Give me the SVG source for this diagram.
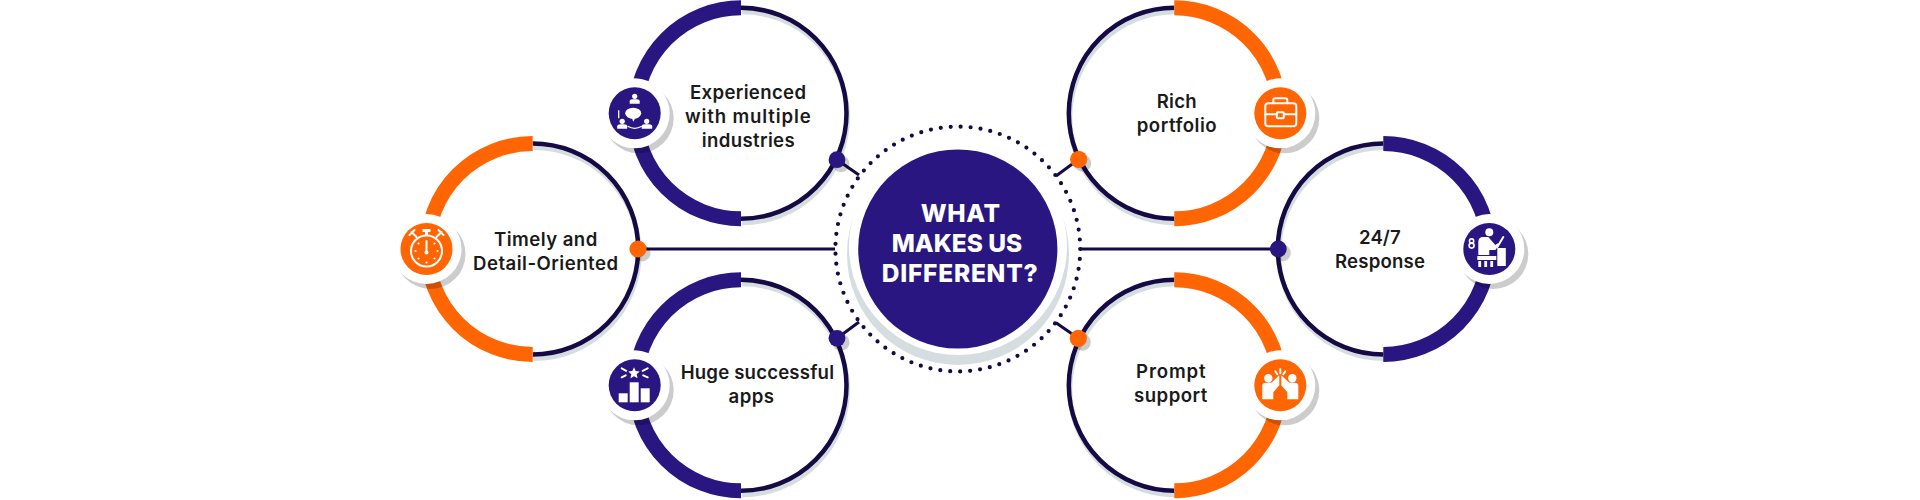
<svg xmlns="http://www.w3.org/2000/svg" width="1920" height="500" viewBox="0 0 1920 500">
<style>
text{font-family:"Inter","Liberation Sans",sans-serif;font-weight:600;font-size:18.6px;fill:#1a1a1a}
.title{font-weight:800;font-size:24.5px;fill:#fff}
.ring{fill:none;stroke:#160a45;stroke-width:4.5}
.sh{fill:none;stroke:#d6dde1;stroke-width:5}
.or{fill:none;stroke:#ff6503;stroke-width:15}
.nv{fill:none;stroke:#2a1680;stroke-width:15}
.ds{fill:#000;fill-opacity:.2}
.wd{fill:#fff}
.fo{fill:#ff6503}
.fn{fill:#2a1680}
.lnk{stroke:#160a45;stroke-width:3;fill:none}
.iw{fill:#fff}
.il{fill:none;stroke:#fff;stroke-width:2;stroke-linecap:round}
</style>
<defs>
<g id="ringL"><path class="sh" d="M1,-101.5A105.5,105.5 0 0 1 1,109.5"/><path class="ring" d="M0,-105.5A105.5,105.5 0 0 1 0,105.5"/></g>
<g id="ringR"><path class="sh" d="M1,-101.5A105.5,105.5 0 0 0 1,109.5"/><path class="ring" d="M0,-105.5A105.5,105.5 0 0 0 0,105.5"/></g>
<path id="halfL" d="M0,-105.5A105.5,105.5 0 0 0 0,105.5"/>
<path id="halfR" d="M0,-105.5A105.5,105.5 0 0 1 0,105.5"/>
<g id="disc"><circle class="ds" cx="4" cy="5" r="35"/><circle class="wd" r="35"/></g>
</defs>
<rect width="1920" height="500" fill="#fff"/>

<g id="connectors">
<path class="lnk" d="M638,249H835"/>
<path class="lnk" d="M1080,249H1278"/>
<path class="lnk" d="M837,159.7L859,175"/>
<path class="lnk" d="M837,338.3L859,322"/>
<path class="lnk" d="M1078.7,159.3L1056,176"/>
<path class="lnk" d="M1078.3,338.3L1056,322.7"/>
</g>

<g id="node-center">
<circle cx="957.8" cy="249" r="122.4" fill="none" stroke="#160a45" stroke-width="4.2" stroke-linecap="round" stroke-dasharray="0 9.99"/>
<circle cx="958" cy="254" r="111" fill="#d6dde1"/>
<circle cx="958" cy="246" r="109" fill="#fff"/>
<circle class="fn" cx="957.8" cy="249" r="99.6"/>
<text class="title" x="920.7" y="221.7" textLength="79.5">WHAT</text>
<text class="title" x="891.7" y="252" textLength="130.6">MAKES US</text>
<text class="title" x="881.7" y="281.7" textLength="156">DIFFERENT?</text>
</g>

<g id="node-timely">
<use href="#ringL" x="532.7" y="249"/>
<use href="#halfL" class="or" x="532.7" y="249"/>
<circle class="ds" cx="642" cy="253" r="8.5"/><circle class="fo" cx="638" cy="249" r="8.6"/>
<g transform="translate(426.5,249)">
<use href="#disc"/><circle class="fo" r="26"/>
<circle class="il" cy="2" r="15.5"/>
<rect class="iw" x="-4" y="-20" width="8" height="3"/><rect class="iw" x="-1.5" y="-17" width="3" height="4"/>
<path class="il" d="M-15,-17L-10,-12M15,-17L10,-12M-17,-14L-12,-19M17,-14L12,-19M0,-8V3"/>
<circle class="iw" cy="3.5" r="2"/>
<circle class="iw" cy="13.5" r="1.1"/><circle class="iw" cx="-8" cy="9.5" r="1.1"/><circle class="iw" cx="8" cy="9.5" r="1.1"/><circle class="iw" cx="-11" cy="2" r="1.1"/><circle class="iw" cx="11" cy="2" r="1.1"/><circle class="iw" cx="-8" cy="-5.5" r="1.1"/><circle class="iw" cx="8" cy="-5.5" r="1.1"/>
</g>
<text x="494" y="245.7" textLength="103.3">Timely and</text>
<text x="473" y="270" textLength="145">Detail-Oriented</text>
</g>

<g id="node-experienced">
<use href="#ringL" x="741" y="113.3"/>
<use href="#halfL" class="nv" x="741" y="113.3"/>
<circle class="ds" cx="841" cy="163.7" r="8.5"/><circle class="fn" cx="837" cy="159.7" r="8.4"/>
<g transform="translate(634.7,113.3)">
<use href="#disc"/><circle class="fn" r="26"/>
<circle class="iw" cy="-17" r="2.6"/><path class="iw" d="M-5,-9.5V-12Q-5,-14 -2,-14H2Q5,-14 5,-12V-9.5Z"/>
<ellipse class="iw" cx="-1.5" cy="0" rx="8" ry="5.6"/><path class="iw" d="M-3,4L-1.5,8.5L1,4Z"/>
<circle class="iw" cx="-12.5" cy="8" r="2.6"/><path class="iw" d="M-17.5,15.5V13Q-17.5,11 -14,11H-11Q-7.5,11 -7.5,13V15.5Z"/>
<circle class="iw" cx="12" cy="8" r="2.6"/><path class="iw" d="M7,15.5V13Q7,11 10,11H14Q17.5,11 17.5,13V15.5Z"/>
<path fill="none" stroke="#fff" stroke-width="1.3" d="M-7,13Q0,17 7,13M-16,-3V5"/>
</g>
<text x="690" y="99" textLength="116">Experienced</text>
<text x="685" y="122.7" textLength="125.7">with multiple</text>
<text x="701.7" y="146.7" textLength="93">industries</text>
</g>

<g id="node-huge">
<use href="#ringL" x="741" y="385.3"/>
<use href="#halfL" class="nv" x="741" y="385.3"/>
<circle class="ds" cx="841" cy="342.3" r="8.5"/><circle class="fn" cx="837" cy="338.3" r="8.4"/>
<g transform="translate(634.7,385.3)">
<use href="#disc"/><circle class="fn" r="26"/>
<rect class="iw" x="-16" y="8" width="9" height="9"/><rect class="iw" x="-5" y="-3" width="9" height="20"/><rect class="iw" x="6" y="3" width="9" height="14"/>
<path class="iw" d="M-.7,-18L1,-14.2L5,-13.8L2,-11L2.9,-7L-.7,-9.1L-4.3,-7L-3.4,-11L-6.4,-13.8L-2.4,-14.2Z"/>
<path class="il" stroke-width="1.5" d="M-13,-17L-8.5,-14.5M-13,-8L-9,-10M13,-17L8,-14.5M13,-8L8.5,-10"/>
</g>
<text x="680.7" y="379.3" textLength="153.3">Huge successful</text>
<text x="728.6" y="403" textLength="45.4">apps</text>
</g>

<g id="node-rich">
<use href="#ringR" x="1174.3" y="113.3"/>
<use href="#halfR" class="or" x="1174.3" y="113.3"/>
<circle class="ds" cx="1082.7" cy="163.3" r="8.5"/><circle class="fo" cx="1078.7" cy="159.3" r="8.6"/>
<g transform="translate(1280.3,113.3)">
<use href="#disc"/><circle class="fo" r="26"/>
<rect class="il" x="-15" y="-10" width="31" height="23" rx="3" stroke-width="2.2"/>
<path class="il" stroke-width="2.2" d="M-7,-10V-13Q-7,-15 -5,-15H5Q7,-15 7,-13V-10M-15,1H-4M4,1H16"/>
<rect class="il" x="-3.5" y="-1" width="7" height="6" rx="1" stroke-width="1.8"/>
</g>
<text x="1156.7" y="107.7" textLength="40">Rich</text>
<text x="1136.7" y="131.7" textLength="80">portfolio</text>
</g>

<g id="node-response">
<use href="#ringR" x="1383.3" y="249"/>
<use href="#halfR" class="nv" x="1383.3" y="249"/>
<circle class="ds" cx="1282.3" cy="253" r="8.5"/><circle class="fn" cx="1278.3" cy="249" r="8.4"/>
<g transform="translate(1489.3,249)">
<use href="#disc"/><circle class="fn" r="26"/>
<circle class="iw" cy="-16.7" r="4"/>
<path class="iw" d="M-11,6V-7Q-11,-12 -6,-12H-1L6,-4L9,-6L10,-4L6,1H0V6Z"/>
<path class="il" stroke-width="1.8" d="M14,-12L8,-2"/>
<rect class="iw" x="-12" y="7" width="19" height="4"/><rect class="iw" x="8" y="-1" width="8.5" height="18"/><rect class="iw" x="-11" y="12" width="2.8" height="6"/><rect class="iw" x="-5" y="12" width="2.8" height="6"/><rect class="iw" x="1" y="12" width="2.8" height="6"/>
<circle fill="none" stroke="#fff" stroke-width="1.6" cx="-17.7" cy="-8" r="2.1"/><circle fill="none" stroke="#fff" stroke-width="1.6" cx="-17.7" cy="-3.4" r="2.5"/>
</g>
<text x="1359" y="244" textLength="41.7">24/7</text>
<text x="1335" y="267.7" textLength="90">Response</text>
</g>

<g id="node-prompt">
<use href="#ringR" x="1174.3" y="385.3"/>
<use href="#halfR" class="or" x="1174.3" y="385.3"/>
<circle class="ds" cx="1082.3" cy="342.3" r="8.5"/><circle class="fo" cx="1078.3" cy="338.3" r="8.6"/>
<g transform="translate(1280.3,385.3)">
<use href="#disc"/><circle class="fo" r="26"/>
<circle class="iw" cx="-12" cy="-7" r="4.2"/><circle class="iw" cx="12" cy="-7" r="4.2"/>
<path class="iw" d="M-18,14V0Q-18,-2.5 -14,-2.5H-9L-1,-10V0L-7,7V14Z"/>
<path class="iw" d="M18,14V0Q18,-2.5 14,-2.5H9L1,-10V0L7,7V14Z"/>
<path class="il" stroke-width="1.5" d="M0,-16V-12M-5,-14L-3,-11M5,-14L3,-11"/>
</g>
<text x="1136" y="378.3" textLength="69.7">Prompt</text>
<text x="1134" y="402" textLength="73.3">support</text>
</g>
</svg>
